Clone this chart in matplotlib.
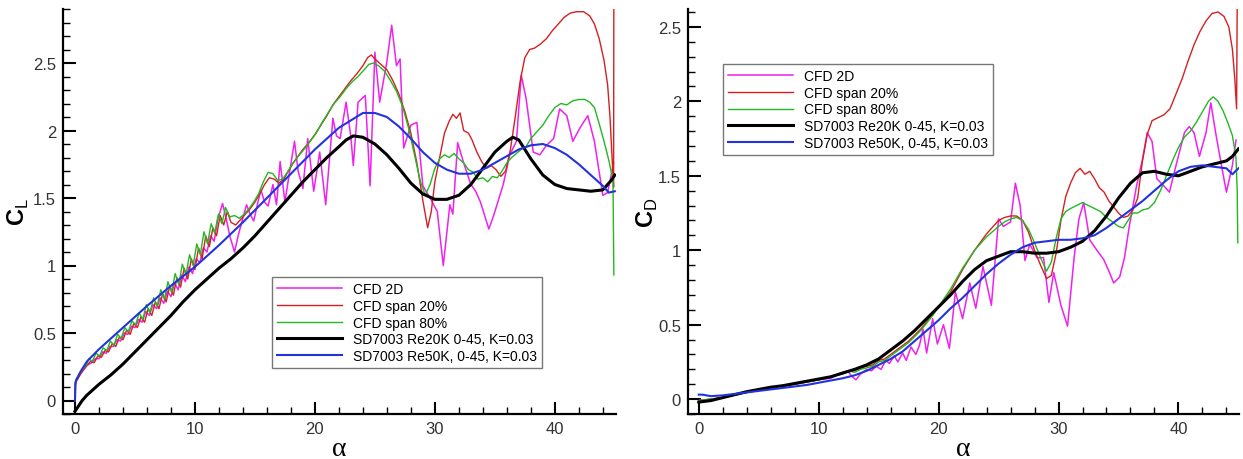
import numpy as np
import matplotlib
matplotlib.use("Agg")
import matplotlib.pyplot as plt
from matplotlib.ticker import MultipleLocator

plt.rcParams["font.family"] = ["Liberation Sans", "DejaVu Sans"]
plt.rcParams["mathtext.fontset"] = "custom"
plt.rcParams["mathtext.rm"] = "Liberation Sans"
plt.rcParams["mathtext.bf"] = "Liberation Sans:bold"

LABELS = ["CFD 2D", "CFD span 20%", "CFD span 80%",
          "SD7003 Re20K 0-45, K=0.03", "SD7003 Re50K, 0-45, K=0.03"]
COLORS = ["#ee22ee", "#d42020", "#22b822", "#000000", "#2233dd"]
WIDTHS = [1.1, 1.0, 1.0, 2.2, 1.5]

# ---------------- lift coefficient (left panel) ----------------
cl_2d_a = [0, 0, 0.1, 0.5, 1.0, 1.4, 1.7, 2.0, 2.3, 2.6, 2.9, 3.2, 3.5, 3.8, 4.1, 4.4, 4.7, 5.0, 5.3,
           5.6, 5.9, 6.2, 6.5, 6.8, 7.1, 7.4, 7.7, 8.0, 8.3, 8.6, 8.9, 9.2, 9.5, 9.8, 10.1, 10.4, 10.7,
           11.0, 11.3, 11.6, 11.9, 12.3, 12.6, 12.9, 13.3, 13.6, 13.9, 14.3, 14.6, 14.9, 15.2, 15.5,
           15.8, 16.1, 16.5, 16.8, 17.1, 17.5, 17.9, 18.3, 18.6, 19.0, 19.4, 19.9, 20.4, 20.9, 21.5,
           21.8, 22.1, 22.6, 23.0, 23.2, 23.6, 24.2, 24.6, 25.0, 25.4, 26.0, 26.4, 26.8, 27.1, 27.4,
           28.0, 28.5, 29.0, 29.6, 30.2, 30.7, 31.25, 31.5, 31.9, 32.4, 33.0, 33.4, 33.8, 34.5, 34.9,
           35.7, 36.25, 36.8, 37.2, 37.6, 38.2, 38.75, 39.3, 39.9, 40.4, 41.0, 41.5, 42.1, 42.75,
           43.3, 44.0, 44.4, 44.9]
cl_2d = [0.0, 0.11, 0.15, 0.21, 0.26, 0.28, 0.31, 0.31, 0.36, 0.35, 0.40, 0.40, 0.45, 0.44, 0.50,
         0.49, 0.55, 0.54, 0.60, 0.58, 0.66, 0.63, 0.71, 0.68, 0.76, 0.72, 0.81, 0.77, 0.87, 0.82,
         0.93, 0.88, 0.99, 0.94, 1.05, 1.02, 1.13, 1.10, 1.22, 1.18, 1.34, 1.46, 1.35, 1.22, 1.10,
         1.22, 1.32, 1.45, 1.38, 1.33, 1.45, 1.56, 1.47, 1.44, 1.60, 1.45, 1.77, 1.47, 1.70, 1.92,
         1.70, 1.57, 1.94, 1.55, 1.84, 1.45, 2.09, 1.96, 1.94, 2.21, 1.95, 1.74, 2.21, 2.26, 1.59,
         2.58, 2.21, 2.51, 2.78, 2.48, 2.53, 1.87, 2.04, 2.06, 1.59, 1.50, 1.40, 1.00, 1.45, 1.38,
         1.91, 1.76, 1.60, 1.55, 1.47, 1.27, 1.37, 1.60, 1.82, 1.92, 2.41, 2.24, 1.84, 1.82, 1.89,
         1.94, 2.16, 2.11, 1.92, 2.02, 2.11, 1.92, 1.52, 1.54, 1.76]

cl_s20_a = [0, 0, 0.1, 0.5, 1.0, 1.3, 1.6, 1.9, 2.2, 2.5, 2.8, 3.1, 3.4, 3.7, 4.0, 4.3, 4.6, 4.9, 5.2,
            5.5, 5.8, 6.1, 6.4, 6.7, 7.0, 7.3, 7.6, 7.9, 8.2, 8.5, 8.8, 9.1, 9.4, 9.7, 10.0, 10.3,
            10.6, 10.9, 11.2, 11.5, 11.8, 12.1, 12.4, 12.7, 13.0, 13.4, 13.8, 14.2, 14.6, 15.0, 15.4,
            15.8, 16.2, 16.6, 17.0, 17.4, 17.8, 18.2, 18.6, 19.0, 19.5, 20.0, 20.5, 21.0, 21.5, 22.0,
            22.5, 23.0, 23.5, 24.0, 24.4, 24.7, 25.0, 25.5, 26.0, 26.5, 27.0, 27.5, 28.0, 28.5, 29.0,
            29.4, 29.7, 30.0, 30.4, 30.8, 31.2, 31.5, 31.8, 32.1, 32.4, 32.8, 33.1, 33.5, 33.9, 34.3,
            34.7, 35.1, 35.5, 35.9, 36.3, 36.7, 37.1, 37.5, 37.9, 38.3, 38.8, 39.3, 39.8, 40.3, 40.8,
            41.3, 41.8, 42.4, 42.9, 43.3, 43.7, 44.1, 44.4, 44.6, 44.8, 44.9, 44.92]
cl_s20 = [0.0, 0.10, 0.14, 0.20, 0.26, 0.29, 0.28, 0.33, 0.32, 0.37, 0.36, 0.42, 0.40, 0.47, 0.45,
          0.52, 0.49, 0.57, 0.54, 0.62, 0.58, 0.68, 0.63, 0.73, 0.68, 0.79, 0.73, 0.85, 0.78, 0.91,
          0.84, 0.98, 0.90, 1.05, 0.97, 1.13, 1.05, 1.22, 1.14, 1.28, 1.22, 1.37, 1.30, 1.40, 1.32,
          1.30, 1.34, 1.38, 1.42, 1.47, 1.53, 1.60, 1.65, 1.64, 1.61, 1.64, 1.70, 1.76, 1.81, 1.86,
          1.91, 1.97, 2.04, 2.11, 2.19, 2.25, 2.31, 2.37, 2.42, 2.48, 2.54, 2.56, 2.53, 2.49, 2.45,
          2.37, 2.27, 2.14, 1.98, 1.76, 1.48, 1.28, 1.40, 1.62, 1.80, 1.98, 2.07, 2.12, 2.09, 2.13,
          2.00, 1.98, 1.93, 1.84, 1.77, 1.72, 1.74, 1.71, 1.66, 1.70, 1.86, 2.10, 2.36, 2.54, 2.60,
          2.61, 2.64, 2.68, 2.74, 2.79, 2.84, 2.87, 2.88, 2.88, 2.85, 2.79, 2.68, 2.52, 2.34, 2.10,
          1.75, 1.58, 2.95]

cl_s80_a = [0, 0, 0.1, 0.5, 1.0, 1.15, 1.45, 1.75, 2.05, 2.35, 2.65, 2.95, 3.25, 3.55, 3.85, 4.15,
            4.45, 4.75, 5.05, 5.35, 5.65, 5.95, 6.25, 6.55, 6.85, 7.15, 7.45, 7.75, 8.05, 8.35, 8.65,
            8.95, 9.25, 9.55, 9.85, 10.15, 10.45, 10.75, 11.05, 11.35, 11.65, 11.95, 12.25, 12.55,
            12.9, 13.3, 13.7, 14.1, 14.5, 14.9, 15.3, 15.7, 16.1, 16.5, 16.9, 17.3, 17.7, 18.1, 18.6,
            19.1, 19.6, 20.1, 20.6, 21.1, 21.6, 22.1, 22.6, 23.1, 23.6, 24.1, 24.5, 24.9, 25.3, 25.8,
            26.3, 26.8, 27.3, 27.8, 28.3, 28.8, 29.2, 29.6, 30.0, 30.4, 30.8, 31.2, 31.6, 32.0, 32.4,
            32.8, 33.2, 33.6, 34.0, 34.4, 34.8, 35.2, 35.6, 36.0, 36.4, 36.8, 37.2, 37.6, 38.0, 38.5,
            39.0, 39.5, 40.0, 40.5, 41.0, 41.5, 42.0, 42.5, 42.9, 43.3, 43.7, 44.1, 44.5, 44.85, 44.92]
cl_s80 = [0.0, 0.12, 0.16, 0.22, 0.27, 0.31, 0.29, 0.35, 0.33, 0.39, 0.37, 0.44, 0.41, 0.49, 0.46,
          0.54, 0.51, 0.59, 0.56, 0.65, 0.60, 0.71, 0.65, 0.76, 0.70, 0.82, 0.75, 0.88, 0.80, 0.94,
          0.86, 1.01, 0.93, 1.08, 1.00, 1.16, 1.08, 1.25, 1.16, 1.31, 1.24, 1.38, 1.31, 1.43, 1.36,
          1.37, 1.35, 1.38, 1.42, 1.47, 1.53, 1.62, 1.69, 1.68, 1.63, 1.64, 1.69, 1.75, 1.81, 1.86,
          1.92, 1.98, 2.06, 2.13, 2.20, 2.25, 2.31, 2.36, 2.40, 2.45, 2.49, 2.50, 2.48, 2.44, 2.37,
          2.29, 2.18, 2.02, 1.82, 1.62, 1.52, 1.60, 1.72, 1.79, 1.82, 1.80, 1.83, 1.79, 1.76, 1.71,
          1.69, 1.64, 1.65, 1.62, 1.66, 1.65, 1.70, 1.76, 1.80, 1.83, 1.86, 1.88, 1.94, 1.99, 2.04,
          2.11, 2.17, 2.20, 2.19, 2.22, 2.23, 2.23, 2.21, 2.17, 2.05, 1.92, 1.78, 1.63, 0.93]

cl_re20_a = [0, 0.3, 0.6, 1, 2, 3, 4, 5, 6, 7, 8, 9, 10, 11, 12, 13, 14, 15, 16, 17, 18, 19, 20,
             21, 22, 22.6, 23.2, 24, 25, 26, 27, 28, 29, 30, 31, 32, 33, 34, 35, 36, 36.5, 37, 38,
             39, 40, 41, 42, 43, 44, 44.7, 45]
cl_re20 = [-0.08, -0.04, 0.0, 0.04, 0.12, 0.19, 0.27, 0.36, 0.45, 0.54, 0.63, 0.73, 0.82, 0.90,
           0.98, 1.05, 1.13, 1.22, 1.32, 1.42, 1.52, 1.62, 1.71, 1.80, 1.88, 1.93, 1.96, 1.95, 1.90,
           1.82, 1.72, 1.61, 1.53, 1.49, 1.49, 1.52, 1.60, 1.72, 1.84, 1.92, 1.95, 1.93, 1.79, 1.67,
           1.60, 1.57, 1.56, 1.55, 1.56, 1.63, 1.67]

cl_re50_a = [0, 0.05, 0.5, 1, 2, 3, 4, 5, 6, 8, 10, 12, 14, 16, 18, 20, 22, 24, 25, 26, 27, 28, 29,
             30, 31, 32, 33, 34, 35, 36, 37, 38, 39, 40, 41, 42, 43, 44, 44.5, 45]
cl_re50 = [0.0, 0.14, 0.22, 0.29, 0.38, 0.46, 0.54, 0.62, 0.70, 0.85, 0.99, 1.15, 1.32, 1.50, 1.68,
           1.86, 2.02, 2.13, 2.13, 2.10, 2.03, 1.94, 1.84, 1.76, 1.71, 1.68, 1.68, 1.71, 1.76, 1.81,
           1.86, 1.89, 1.90, 1.87, 1.82, 1.75, 1.67, 1.59, 1.54, 1.55]

# ---------------- drag coefficient (right panel) ----------------
cd_2d_a = [0, 2, 4, 6, 8, 10, 11, 11.5, 12, 12.4, 12.8, 13.1, 13.5, 14, 14.4, 14.8, 15.2, 15.6, 15.9,
           16.3, 16.6, 17, 17.3, 17.7, 18.1, 18.4, 18.7, 19.0, 19.5, 19.9, 20.4, 20.9, 21.4, 22.0,
           22.6, 23.1, 23.7, 24.4, 25.0, 25.4, 26.0, 26.4, 26.8, 27.2, 27.6, 28.2, 28.75, 29.2, 29.6,
           30.2, 30.75, 31.3, 31.7, 32.1, 32.6, 33.2, 33.75, 34.2, 34.6, 35.1, 35.5, 35.9, 36.5, 37.0,
           37.4, 37.8, 38.2, 38.8, 39.25, 39.8, 40.5, 40.9, 41.3, 41.75, 42.3, 42.7, 43.1, 43.7, 44.0,
           44.5, 44.8]
cd_2d = [-0.01, 0.01, 0.045, 0.075, 0.10, 0.13, 0.14, 0.16, 0.17, 0.19, 0.15, 0.13, 0.17, 0.20, 0.19,
         0.22, 0.20, 0.26, 0.24, 0.29, 0.25, 0.31, 0.26, 0.35, 0.30, 0.36, 0.47, 0.31, 0.54, 0.37,
         0.50, 0.34, 0.72, 0.54, 0.78, 0.61, 0.89, 0.63, 1.21, 1.16, 1.19, 1.45, 1.30, 0.93, 1.04,
         0.95, 0.95, 0.65, 0.85, 0.63, 0.49, 0.95, 1.21, 1.32, 1.07, 1.00, 0.94, 0.86, 0.78, 0.82,
         0.95, 1.16, 1.43, 1.61, 1.79, 1.73, 1.48, 1.43, 1.39, 1.57, 1.79, 1.83, 1.79, 1.63, 1.79,
         1.99, 1.79, 1.52, 1.39, 1.57, 1.74]

cd_s20_a = [0, 2, 4, 6, 8, 10, 11, 12, 12.5, 13, 13.5, 14, 14.5, 15, 15.5, 16, 16.5, 17, 17.5, 18,
            18.5, 19, 19.5, 20, 21, 22, 23, 24, 25, 25.5, 26, 26.5, 27, 27.5, 28, 28.5, 29, 29.4,
            29.8, 30.2, 30.6, 31, 31.4, 31.8, 32.2, 32.6, 33, 33.4, 33.8, 34.2, 34.6, 35, 35.4, 35.8,
            36.2, 36.6, 37, 37.4, 37.8, 38.3, 38.8, 39.3, 39.8, 40.3, 40.8, 41.3, 41.8, 42.3, 42.8,
            43.3, 43.8, 44.2, 44.5, 44.7, 44.85, 44.9]
cd_s20 = [-0.01, 0.01, 0.045, 0.075, 0.10, 0.13, 0.15, 0.18, 0.19, 0.19, 0.21, 0.22, 0.23, 0.26, 0.27,
          0.30, 0.33, 0.36, 0.39, 0.43, 0.47, 0.52, 0.57, 0.62, 0.72, 0.87, 1.00, 1.11, 1.20, 1.22,
          1.23, 1.23, 1.20, 1.12, 1.00, 0.90, 0.81, 0.83, 0.98, 1.20, 1.36, 1.45, 1.52, 1.55, 1.51,
          1.53, 1.48, 1.42, 1.39, 1.33, 1.29, 1.25, 1.22, 1.23, 1.27, 1.35, 1.60, 1.78, 1.87, 1.89,
          1.91, 1.95, 2.05, 2.15, 2.27, 2.38, 2.47, 2.54, 2.59, 2.60, 2.57, 2.50, 2.35, 2.15, 1.95,
          2.65]

cd_s80_a = [0, 2, 4, 6, 8, 10, 11, 12, 12.5, 13, 13.5, 14, 14.5, 15, 15.5, 16, 16.5, 17, 17.5, 18,
            18.5, 19, 19.5, 20, 21, 22, 23, 24, 25, 25.5, 26, 26.5, 27, 27.5, 28, 28.5, 29, 29.4,
            29.8, 30.2, 30.6, 31, 31.5, 32, 32.5, 33, 33.5, 34, 34.5, 35, 35.4, 35.8, 36.2, 36.6, 37,
            37.5, 38, 38.5, 39, 39.5, 40, 40.5, 41, 41.5, 42, 42.5, 42.9, 43.3, 43.7, 44.1, 44.5,
            44.8, 44.9, 44.95]
cd_s80 = [-0.01, 0.01, 0.045, 0.075, 0.10, 0.13, 0.15, 0.17, 0.19, 0.18, 0.20, 0.21, 0.22, 0.25, 0.26,
          0.29, 0.32, 0.35, 0.38, 0.42, 0.46, 0.51, 0.56, 0.62, 0.74, 0.88, 1.00, 1.09, 1.16, 1.19,
          1.21, 1.22, 1.20, 1.14, 1.05, 0.95, 0.86, 0.92, 1.08, 1.21, 1.26, 1.28, 1.30, 1.32, 1.30,
          1.28, 1.26, 1.22, 1.19, 1.16, 1.15, 1.20, 1.25, 1.25, 1.27, 1.28, 1.32, 1.40, 1.50, 1.60,
          1.69, 1.76, 1.80, 1.86, 1.93, 2.00, 2.03, 2.00, 1.94, 1.86, 1.77, 1.62, 1.40, 1.05]

cd_re20_a = [0, 1, 2, 3, 4, 5, 6, 7, 8, 9, 10, 11, 12, 13, 14, 15, 16, 17, 18, 19, 20, 21, 22, 23,
             24, 25, 26, 27, 28, 29, 30, 31, 32, 33, 34, 35, 36, 37, 38, 39, 40, 41, 42, 43, 44,
             44.5, 45]
cd_re20 = [-0.02, -0.01, 0.01, 0.03, 0.05, 0.065, 0.08, 0.09, 0.105, 0.12, 0.135, 0.15, 0.175, 0.20,
           0.23, 0.27, 0.33, 0.39, 0.46, 0.54, 0.62, 0.70, 0.79, 0.87, 0.93, 0.96, 0.99, 0.99, 0.98,
           0.98, 0.99, 1.02, 1.06, 1.13, 1.23, 1.35, 1.45, 1.52, 1.53, 1.51, 1.50, 1.53, 1.56, 1.58,
           1.60, 1.63, 1.68]

cd_re50_a = [0, 0.3, 1, 2, 3, 4, 5, 6, 7, 8, 9, 10, 11, 12, 13, 14, 15, 16, 17, 18, 19, 20, 21, 22,
             23, 24, 25, 26, 27, 28, 29, 30, 31, 32, 33, 34, 35, 36, 37, 38, 39, 40, 41, 42, 43, 44,
             44.5, 45]
cd_re50 = [0.03, 0.03, 0.02, 0.025, 0.035, 0.045, 0.055, 0.065, 0.075, 0.085, 0.095, 0.11, 0.125,
           0.14, 0.16, 0.19, 0.23, 0.27, 0.32, 0.39, 0.46, 0.53, 0.61, 0.68, 0.76, 0.84, 0.91, 0.97,
           1.02, 1.05, 1.06, 1.07, 1.07, 1.08, 1.10, 1.15, 1.21, 1.27, 1.33, 1.40, 1.47, 1.53, 1.56,
           1.57, 1.56, 1.55, 1.51, 1.55]

fig = plt.figure(figsize=(12.43, 4.6), dpi=100)
ax_l = fig.add_axes([63 / 1243, 45 / 460, 553 / 1243, 405 / 460])
ax_r = fig.add_axes([688 / 1243, 45 / 460, 551 / 1243, 405 / 460])

left_series = [(cl_2d_a, cl_2d), (cl_s20_a, cl_s20), (cl_s80_a, cl_s80),
               (cl_re20_a, cl_re20), (cl_re50_a, cl_re50)]
right_series = [(cd_2d_a, cd_2d), (cd_s20_a, cd_s20), (cd_s80_a, cd_s80),
                (cd_re20_a, cd_re20), (cd_re50_a, cd_re50)]

for ax, series in ((ax_l, left_series), (ax_r, right_series)):
    for (a, v), lab, col, lw in zip(series, LABELS, COLORS, WIDTHS):
        ax.plot(a, v, color=col, lw=lw, label=lab)

ax_l.set_xlim(-1.0, 45.1)
ax_l.set_ylim(-0.1, 2.9)
ax_r.set_xlim(-0.9, 45.05)
ax_r.set_ylim(-0.1, 2.62)

for ax in (ax_l, ax_r):
    for side in ("top", "right"):
        ax.spines[side].set_visible(False)
    for side in ("left", "bottom"):
        ax.spines[side].set_linewidth(1.6)
    ax.xaxis.set_major_locator(MultipleLocator(10))
    ax.xaxis.set_minor_locator(MultipleLocator(2))
    ax.yaxis.set_major_locator(MultipleLocator(0.5))
    ax.yaxis.set_minor_locator(MultipleLocator(0.1))
    ax.yaxis.set_major_formatter(matplotlib.ticker.FuncFormatter(lambda v, p: f"{v:g}"))
    ax.tick_params(which="major", direction="in", length=9, width=1.5,
                   labelsize=12, labelcolor="#333333", pad=5)
    ax.tick_params(which="minor", direction="in", length=5, width=1.0)
    ax.set_xlabel("α", family="Liberation Serif", fontsize=20, labelpad=0)

ax_l.set_ylabel(r"$\mathbf{C}_{\mathrm{L}}$", fontsize=17)
ax_l.yaxis.set_label_coords(-0.058, 0.5)
ax_r.set_ylabel(r"$\mathbf{C}_{\mathrm{D}}$", fontsize=17)
ax_r.yaxis.set_label_coords(-0.05, 0.5)

legend_style = dict(loc="upper left", fontsize=10, handlelength=4.7, handletextpad=0.8,
                    labelspacing=0.2, borderaxespad=0, borderpad=0.35, fancybox=False,
                    framealpha=1, edgecolor="#777777")
ax_l.legend(bbox_to_anchor=(0.378, 0.338), **legend_style)
ax_r.legend(bbox_to_anchor=(0.0635, 0.864), **legend_style)
for ax in (ax_l, ax_r):
    ax.get_legend().get_frame().set_linewidth(1.0)

fig.savefig("out.png", dpi=100)
